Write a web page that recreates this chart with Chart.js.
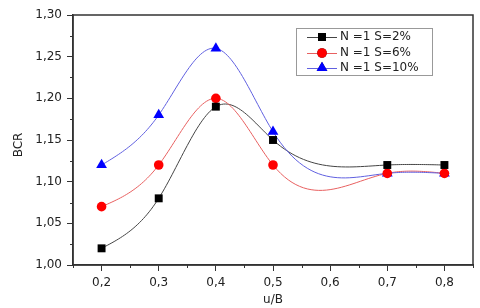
<!DOCTYPE html>
<html>
<head>
<meta charset="utf-8">
<script src="https://cdn.jsdelivr.net/npm/chart.js@4.4.0/dist/chart.umd.min.js"></script>
<style>
  html, body { margin: 0; padding: 0; background: #fff; }
  #wrap { width: 480px; height: 308px; position: relative; }
</style>
</head>
<body>
<div id="wrap"><canvas id="chart"></canvas></div>
<script>
// values
const uB = [0.2, 0.3, 0.4, 0.5, 0.7, 0.8];
const s2 = [1.02, 1.08, 1.19, 1.15, 1.12, 1.12];
const s6 = [1.07, 1.12, 1.20, 1.12, 1.11, 1.11];
const s10 = [1.12, 1.18, 1.26, 1.16, 1.11, 1.11];
const seriesNames = ['N =1 S=2%', 'N =1 S=6%', 'N =1 S=10%'];

const FONT = 'DejaVu Sans';

function toPoints(ys) {
    return uB.map((x, i) => ({ x: x, y: ys[i] }));
}

function isMajor(v, step) {
    return Math.abs(Math.round(v / step) * step - v) < 1e-6;
}

function fmt(v, digits) {
    return v.toFixed(digits).replace('.', ',');
}

// second derivatives of a natural cubic spline (like Origin's spline connect)
function splineM(x, y) {
    const n = x.length;
    const h = [];
    for (let i = 0; i < n - 1; i++) h.push(x[i + 1] - x[i]);
    const a = new Array(n).fill(0), b = new Array(n).fill(1), c = new Array(n).fill(0), d = new Array(n).fill(0);
    for (let i = 1; i < n - 1; i++) {
        a[i] = h[i - 1];
        b[i] = 2 * (h[i - 1] + h[i]);
        c[i] = h[i];
        d[i] = 6 * ((y[i + 1] - y[i]) / h[i] - (y[i] - y[i - 1]) / h[i - 1]);
    }
    for (let i = 1; i < n; i++) {
        const m = a[i] / b[i - 1];
        b[i] -= m * c[i - 1];
        d[i] -= m * d[i - 1];
    }
    const M = new Array(n).fill(0);
    M[n - 1] = d[n - 1] / b[n - 1];
    for (let i = n - 2; i >= 0; i--) M[i] = (d[i] - c[i] * M[i + 1]) / b[i];
    return M;
}

// connecting curves, drawn under the markers
const splineLines = {
    id: 'splineLines',
    beforeDatasetsDraw(chart) {
        const ctx = chart.ctx;
        const xs = chart.scales.x;
        const ys = chart.scales.y;
        const a = chart.chartArea;
        ctx.save();
        ctx.beginPath();
        ctx.rect(a.left, a.top, a.right - a.left, a.bottom - a.top);
        ctx.clip();
        chart.data.datasets.forEach(ds => {
            const px = ds.data.map(p => p.x);
            const py = ds.data.map(p => p.y);
            const M = splineM(px, py);
            ctx.strokeStyle = ds.borderColor;
            ctx.lineWidth = 1;
            ctx.beginPath();
            for (let i = 0; i < px.length - 1; i++) {
                const h = px[i + 1] - px[i];
                for (let k = 0; k <= 30; k++) {
                    const t = px[i] + h * k / 30;
                    const A = (px[i + 1] - t) / h, B = (t - px[i]) / h;
                    const v = A * py[i] + B * py[i + 1] +
                        ((A * A * A - A) * M[i] + (B * B * B - B) * M[i + 1]) * h * h / 6;
                    const X = xs.getPixelForValue(t), Y = ys.getPixelForValue(v);
                    if (i === 0 && k === 0) ctx.moveTo(X, Y); else ctx.lineTo(X, Y);
                }
            }
            ctx.stroke();
        });
        ctx.restore();
    }
};

// frame, minor ticks, axis titles and legend box
const extras = {
    id: 'extras',
    afterDraw(chart) {
        const ctx = chart.ctx;
        const a = chart.chartArea;
        const xs = chart.scales.x;
        const ys = chart.scales.y;
        ctx.save();
        ctx.strokeStyle = '#333';
        ctx.lineWidth = 1.5;
        ctx.strokeRect(a.left, a.top, a.right - a.left, a.bottom - a.top);

        // minor ticks
        ctx.lineWidth = 1;
        ctx.beginPath();
        xs.ticks.forEach(t => {
            if (!isMajor(t.value, 0.1)) {
                const px = Math.round(xs.getPixelForValue(t.value)) + 0.5;
                ctx.moveTo(px, a.bottom);
                ctx.lineTo(px, a.bottom + 3);
            }
        });
        ys.ticks.forEach(t => {
            if (!isMajor(t.value, 0.05)) {
                const py = Math.round(ys.getPixelForValue(t.value)) + 0.5;
                ctx.moveTo(a.left, py);
                ctx.lineTo(a.left - 3, py);
            }
        });
        ctx.stroke();

        // axis titles
        ctx.fillStyle = '#222';
        ctx.font = '12px ' + FONT;
        ctx.textAlign = 'center';
        ctx.textBaseline = 'middle';
        ctx.fillText('u/B', (a.left + a.right) / 2, 300);
        ctx.translate(19, 145);
        ctx.rotate(-Math.PI / 2);
        ctx.fillText('BCR', 0, 0);
        ctx.restore();

        // legend
        ctx.save();
        ctx.strokeStyle = '#999';
        ctx.lineWidth = 1;
        ctx.strokeRect(296.5, 28.5, 136, 47);
        ctx.font = '12px ' + FONT;
        ctx.textBaseline = 'middle';
        ctx.textAlign = 'left';
        const rowY = [37, 53, 68];
        chart.data.datasets.forEach((ds, i) => {
            const y = rowY[i];
            ctx.strokeStyle = ds.borderColor;
            ctx.lineWidth = 1;
            ctx.beginPath();
            ctx.moveTo(307, y + 0.5);
            ctx.lineTo(337, y + 0.5);
            ctx.stroke();
            Chart.helpers.drawPoint(ctx, {
                pointStyle: ds.pointStyle,
                radius: ds.pointRadius,
                borderWidth: 0
            }, 322, y);
            ctx.fillStyle = ds.pointBackgroundColor;
            ctx.fill();
            ctx.fillStyle = '#222';
            ctx.fillText(seriesNames[i], 340, y);
        });
        ctx.restore();
    }
};

function makeSet(label, ys, line, mark, style, radius) {
    return {
        label: label,
        data: toPoints(ys),
        showLine: false,
        borderColor: line,
        borderWidth: 1,
        backgroundColor: mark,
        pointBackgroundColor: mark,
        pointBorderColor: mark,
        pointBorderWidth: 0,
        pointStyle: style,
        pointRadius: radius,
        pointHoverRadius: radius,
        fill: false
    };
}

const ctx = document.getElementById('chart').getContext('2d');
new Chart(ctx, {
    type: 'line',
    data: {
        datasets: [
            makeSet(seriesNames[0], s2, '#444', '#000', 'rect', 5.6),
            makeSet(seriesNames[1], s6, '#e86060', '#f00', 'circle', 4.8),
            makeSet(seriesNames[2], s10, '#6060e0', '#00f', 'triangle', 6.2)
        ]
    },
    plugins: [splineLines, extras],
    options: {
        responsive: true,
        maintainAspectRatio: false,
        animation: false,
        layout: { padding: { left: 0, top: 15, right: 7, bottom: 0 } },
        plugins: {
            legend: { display: false },
            tooltip: { enabled: false }
        },
        scales: {
            x: {
                type: 'linear',
                min: 0.15,
                max: 0.85,
                afterFit(s) { s.height = 43; },
                border: { display: true, color: '#333', width: 1.5 },
                grid: {
                    drawOnChartArea: false,
                    drawTicks: true,
                    tickLength: 6,
                    color: c => (c.tick && isMajor(c.tick.value, 0.1)) ? '#333' : 'rgba(0,0,0,0)'
                },
                ticks: {
                    stepSize: 0.05,
                    autoSkip: false,
                    maxRotation: 0,
                    padding: 5,
                    color: '#222',
                    font: { family: FONT, size: 12 },
                    callback: v => isMajor(v, 0.1) ? fmt(v, 1) : ''
                }
            },
            y: {
                min: 1.0,
                max: 1.3,
                afterFit(s) { s.width = 73; },
                border: { display: true, color: '#333', width: 1.5 },
                grid: {
                    drawOnChartArea: false,
                    drawTicks: true,
                    tickLength: 6,
                    color: c => (c.tick && isMajor(c.tick.value, 0.05)) ? '#333' : 'rgba(0,0,0,0)'
                },
                ticks: {
                    stepSize: 0.025,
                    autoSkip: false,
                    padding: 5,
                    color: '#222',
                    font: { family: FONT, size: 12 },
                    callback: v => isMajor(v, 0.05) ? fmt(v, 2) : ''
                }
            }
        }
    }
});
</script>
</body>
</html>
